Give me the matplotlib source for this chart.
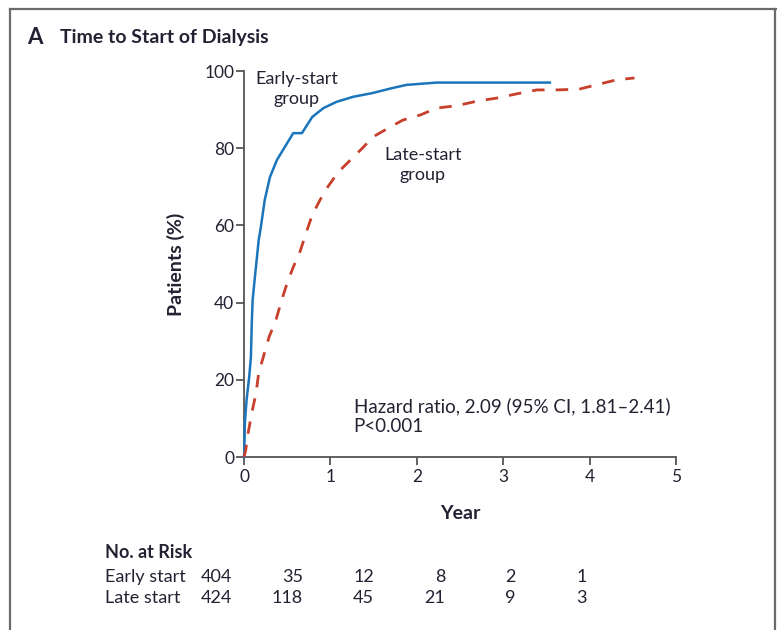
import matplotlib
matplotlib.use("Agg")
import matplotlib.pyplot as plt
from matplotlib.lines import Line2D

plt.rcParams['font.family'] = ['Lato', 'DejaVu Sans']

# Kaplan-Meier style curves (years, % patients)
early_x = [0, 0.003, 0.01, 0.03, 0.06, 0.08, 0.09, 0.10, 0.13, 0.15, 0.17, 0.19, 0.24,
           0.30, 0.38, 0.45, 0.57, 0.67, 0.79, 0.92, 1.07, 1.26, 1.49, 1.72, 1.88, 2.23, 3.54]
early_y = [0, 1, 8.8, 14.8, 20.7, 25.9, 34.7, 40.7, 47.5, 51.8, 56.2, 58.8, 66.6,
           72.5, 76.9, 79.5, 83.9, 83.9, 88.1, 90.4, 92, 93.3, 94.3, 95.6, 96.4, 97, 97]

late_x = [0, 0.02, 0.05, 0.09, 0.14, 0.17, 0.23, 0.29, 0.37, 0.43, 0.50, 0.57, 0.65, 0.73,
          0.79, 0.88, 0.97, 1.09, 1.23, 1.37, 1.49, 1.67, 1.84, 2.04, 2.23, 2.46, 2.70, 2.93,
          3.16, 3.39, 3.62, 3.88, 4.11, 4.31, 4.52]
late_y = [0, 1.8, 6.5, 11.4, 16.6, 21.8, 26.4, 31.1, 35.5, 40.2, 45.1, 49.2, 53.3, 58.8,
          62.7, 66.6, 70, 73.8, 76.9, 80, 82.9, 85.2, 87.3, 88.6, 90.4, 91, 92.2, 93,
          94.1, 95.1, 95.1, 95.3, 96.6, 97.7, 98.2]

risk_groups = ["Early start", "Late start"]
risk_early = [404, 35, 12, 8, 2, 1]
risk_late = [424, 118, 45, 21, 9, 3]

blue = "#1a75bb"
red = "#c8402c"
grey = "#555555"
txt = "#222233"
fs = 13

fig = plt.figure(figsize=(7.77, 6.3), dpi=100)
W, H = 777, 630

ax = fig.add_axes([244 / W, 1 - 457 / H, (676 - 244) / W, (457 - 71) / H])
ax.plot(early_x, early_y, color=blue, lw=1.8, clip_on=False, zorder=3)
ax.plot(late_x, late_y, color=red, lw=2.0, dashes=(4.5, 4), clip_on=False, zorder=3)

ax.set_xlim(0, 5)
ax.set_ylim(0, 100)
ax.set_xticks(range(6))
ax.set_yticks(range(0, 101, 20))
for s in ['top', 'right']:
    ax.spines[s].set_visible(False)
for s in ['left', 'bottom']:
    ax.spines[s].set_color(grey)
    ax.spines[s].set_linewidth(1.3)
ax.tick_params(axis='both', direction='out', length=6, width=1.3, color=grey,
               labelsize=12.5, labelcolor=txt)
ax.tick_params(axis='y', pad=1)
ax.tick_params(axis='x', pad=3)
ax.set_xlabel("Year", fontsize=14, fontweight='bold', color=txt, labelpad=14)
ax.set_ylabel("Patients (%)", fontsize=14, fontweight='bold', color=txt, labelpad=14)

ax.text(0.61, 95.3, "Early-start\ngroup", ha='center', va='center', fontsize=fs,
        color=txt, linespacing=1.35)
ax.text(2.07, 75.7, "Late-start\ngroup", ha='center', va='center', fontsize=fs,
        color=txt, linespacing=1.35)
ax.text(1.27, 10.6, "Hazard ratio, 2.09 (95% CI, 1.81\u20132.41)\nP<0.001", ha='left',
        va='center', fontsize=13.5, color=txt, linespacing=1.25)

# title
fig.text(27 / W, 1 - 37 / H, "A", fontsize=16, fontweight='bold', color=txt, va='center')
fig.text(60 / W, 1 - 37 / H, "Time to Start of Dialysis", fontsize=14, fontweight='bold',
         color=txt, va='center')

# number at risk table
fig.text(105 / W, 1 - 552 / H, "No. at Risk", fontsize=fs, fontweight='bold',
         color=txt, va='center')
for row, (name, vals) in enumerate(zip(risk_groups, [risk_early, risk_late])):
    yy = 1 - (577 + row * 21) / H
    fig.text(105 / W, yy, name, fontsize=fs, color=txt, va='center')
    for i, v in enumerate(vals):
        fig.text((232 + i * 71) / W, yy, str(v), fontsize=fs, color=txt,
                 va='center', ha='right')

# panel frame
fcol = "#6b6b6b"
fig.add_artist(Line2D([10 / W, 10 / W], [0, 1 - 9 / H], color=fcol, lw=1.6))
fig.add_artist(Line2D([10 / W, 776 / W], [1 - 9 / H, 1 - 9 / H], color=fcol, lw=1.6))
fig.add_artist(Line2D([775 / W, 775 / W], [0, 1 - 9 / H], color=fcol, lw=1.6))

fig.savefig("out.png", dpi=100)
